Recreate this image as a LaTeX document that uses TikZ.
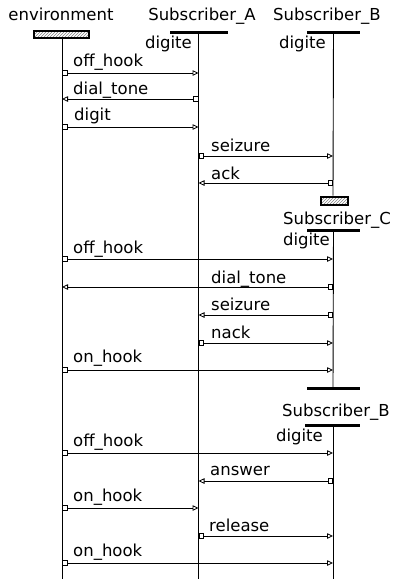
\documentclass[tikz,border=0pt]{standalone}
\usepackage{fontspec}
\setmainfont{DejaVu Sans}
\usetikzlibrary{arrows.meta,patterns}
\begin{document}
\begin{tikzpicture}[x=1pt,y=-1pt,
  lbl/.style={font=\fontsize{16.5}{18}\selectfont, inner sep=0pt},
  msglbl/.style={lbl, anchor=base west},
  life/.style={line width=0.9pt},
  barnode/.style={fill=black, draw=none, minimum height=3pt, inner sep=0pt},
  hbox/.style={draw, line width=2pt, pattern=north east lines, pattern color=gray, inner sep=0pt},
  msg/.style={line width=0.8pt, {Square[open,length=5.5pt,width=5.5pt]}-{Triangle[open,length=6pt,width=5.5pt]}}
]
\useasboundingbox (0,0) rectangle (392,579);
% lifeline x positions
\coordinate (env) at (62,0);
\coordinate (A) at (198.5,0);
\coordinate (B) at (333,0);
\coordinate (bot) at (0,579);

% environment
\node[lbl, anchor=base] (envname) at (61,20) {environment};
\node[hbox, minimum width=55pt, minimum height=7pt] (envbox) at (61.5,34.5) {};
\draw[life] (envbox.south -| env) -- (env |- bot);

% Subscriber_A
\node[lbl, anchor=base] (Aname) at (202,20) {Subscriber\_A};
\node[barnode, minimum width=58pt] (Abar) at (198.5,32) {};
\node[lbl, anchor=base east] (Adig) at (192,48) {digite};
\draw[life] (Abar.center) -- (A |- bot);

% Subscriber_B (first instance)
\node[lbl, anchor=base west] (Bname) at (273,20) {Subscriber\_B};
\node[barnode, minimum width=53pt] (Bbar) at (333.5,32) {};
\node[lbl, anchor=base east] (Bdig) at (326,48) {digite};
\node[hbox, minimum width=27pt, minimum height=8pt] (Bend) at (334,200.5) {};
\draw[life] (Bbar.center) -- (Bend.north -| B);

% Subscriber_C
\node[lbl, anchor=base west] (Cname) at (283,224) {Subscriber\_C};
\node[barnode, minimum width=53pt] (Cbar) at (333.5,230) {};
\node[lbl, anchor=base east] (Cdig) at (330,245) {digite};
\node[barnode, minimum width=53pt] (Cstop) at (333.5,388) {};
\draw[life] (Cbar.center) -- (Cstop.center -| B);

% Subscriber_B (second instance)
\node[lbl, anchor=base west] (B2name) at (282,416) {Subscriber\_B};
\node[barnode, minimum width=55pt] (B2bar) at (332.5,425) {};
\node[lbl, anchor=base east] (B2dig) at (323,441) {digite};
\draw[life] (B2bar.center -| B) -- (B |- bot);

% message rows
\coordinate (m1) at (0,73);
\coordinate (m2) at (0,99);
\coordinate (m3) at (0,127);
\coordinate (m4) at (0,156);
\coordinate (m5) at (0,183);
\coordinate (m6) at (0,259);
\coordinate (m7) at (0,287);
\coordinate (m8) at (0,315);
\coordinate (m9) at (0,343);
\coordinate (m10) at (0,370);
\coordinate (m11) at (0,453);
\coordinate (m12) at (0,481);
\coordinate (m13) at (0,508);
\coordinate (m14) at (0,536);
\coordinate (m15) at (0,563);

\draw[msg] (env |- m1) -- (A |- m1);
\node[msglbl] (l1) at (73,66) {off\_hook};
\draw[msg] (A |- m2) -- (env |- m2);
\node[msglbl] (l2) at (73,94) {dial\_tone};
\draw[msg] (env |- m3) -- (A |- m3);
\node[msglbl] (l3) at (74,120) {digit};
\draw[msg] (A |- m4) -- (B |- m4);
\node[msglbl] (l4) at (211,151.5) {seizure};
\draw[msg] (B |- m5) -- (A |- m5);
\node[msglbl] (l5) at (211,179) {ack};
\draw[msg] (env |- m6) -- (B |- m6);
\node[msglbl] (l6) at (73,253) {off\_hook};
\draw[msg] (B |- m7) -- (env |- m7);
\node[msglbl] (l7) at (211,283) {dial\_tone};
\draw[msg] (B |- m8) -- (A |- m8);
\node[msglbl] (l8) at (211,310) {seizure};
\draw[msg] (A |- m9) -- (B |- m9);
\node[msglbl] (l9) at (211,338) {nack};
\draw[msg] (env |- m10) -- (B |- m10);
\node[msglbl] (l10) at (73,362.5) {on\_hook};
\draw[msg] (env |- m11) -- (B |- m11);
\node[msglbl] (l11) at (73,446) {off\_hook};
\draw[msg] (B |- m12) -- (A |- m12);
\node[msglbl] (l12) at (210,475.5) {answer};
\draw[msg] (env |- m13) -- (A |- m13);
\node[msglbl] (l13) at (73,501.5) {on\_hook};
\draw[msg] (A |- m14) -- (B |- m14);
\node[msglbl] (l14) at (209,531.5) {release};
\draw[msg] (env |- m15) -- (B |- m15);
\node[msglbl] (l15) at (73,556.5) {on\_hook};
\end{tikzpicture}
\end{document}
